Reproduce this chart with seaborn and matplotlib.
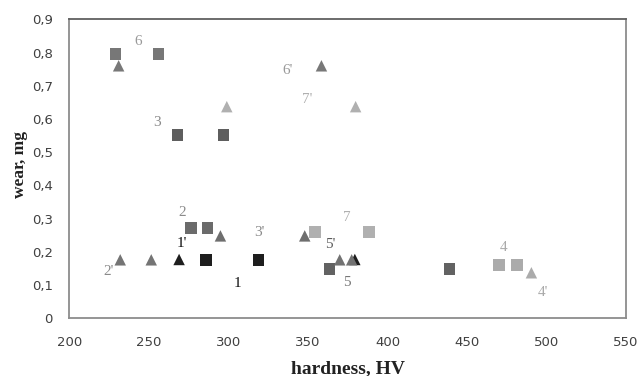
import matplotlib
matplotlib.use("Agg")
import matplotlib.pyplot as plt
import seaborn as sns
import pandas as pd

# Hardness (HV) and wear (mg) per sample series; primed series are the triangles
series_names = ["1", "1'", "2", "2'", "3", "3'", "4", "4'", "5", "5'", "6", "6'", "7", "7'"]
hardness = {
    "1": [286, 319],
    "1'": [269, 379.5],
    "2": [276.5, 287],
    "2'": [232, 251.5],
    "3": [268, 297],
    "3'": [295, 348],
    "4": [470, 481.5],
    "4'": [490.5],
    "5": [363.5, 439],
    "5'": [370, 377.5],
    "6": [229, 256],
    "6'": [231, 358.5],
    "7": [354.5, 388.5],
    "7'": [299, 380],
}
wear = {
    "1": [0.175, 0.175],
    "1'": [0.177, 0.177],
    "2": [0.272, 0.272],
    "2'": [0.176, 0.176],
    "3": [0.552, 0.552],
    "3'": [0.248, 0.248],
    "4": [0.16, 0.16],
    "4'": [0.137],
    "5": [0.149, 0.149],
    "5'": [0.176, 0.176],
    "6": [0.796, 0.796],
    "6'": [0.76, 0.76],
    "7": [0.26, 0.26],
    "7'": [0.637, 0.637],
}
x_ticks = [200, 250, 300, 350, 400, 450, 500, 550]
y_ticks = [0, 0.1, 0.2, 0.3, 0.4, 0.5, 0.6, 0.7, 0.8, 0.9]

# Styling
marker_colors = {
    "1": "#1e1e1e", "1'": "#1e1e1e",
    "2": "#6b6b6b", "2'": "#747474",
    "3": "#5e5e5e", "3'": "#6e6e6e",
    "4": "#ababab", "4'": "#ababab",
    "5": "#626262", "5'": "#727272",
    "6": "#777777", "6'": "#787878",
    "7": "#b0b0b0", "7'": "#b0b0b0",
}
label_colors = {
    "1": "#111111", "1'": "#111111",
    "2": "#8a8a8a", "2'": "#8a8a8a",
    "3": "#8a8a8a", "3'": "#8a8a8a",
    "4": "#aaaaaa", "4'": "#aaaaaa",
    "5": "#777777", "5'": "#5a5a5a",
    "6": "#999999", "6'": "#999999",
    "7": "#b0b0b0", "7'": "#b0b0b0",
}
label_pos = {
    "1": (306, 0.106), "1'": (271, 0.224),
    "2": (271, 0.317), "2'": (224.5, 0.140),
    "3": (255, 0.588), "3'": (319.5, 0.257),
    "4": (473, 0.212), "4'": (498, 0.079),
    "5": (374.5, 0.109), "5'": (364, 0.221),
    "6": (243, 0.832), "6'": (337.5, 0.745),
    "7": (374.5, 0.302), "7'": (349.5, 0.658),
}

rows = []
for name in series_names:
    for h, w in zip(hardness[name], wear[name]):
        rows.append({"hardness": h, "wear": w, "series": name})
df = pd.DataFrame(rows)
# draw black series first so grey triangles sit on top
order = ["1", "1'"] + [n for n in series_names if n not in ("1", "1'")]
df["series"] = pd.Categorical(df["series"], categories=order, ordered=True)
df = df.sort_values("series")
df["series"] = df["series"].astype(str)

markers = {n: ("^" if n.endswith("'") else "s") for n in series_names}

sns.set_style("white")
plt.rcParams["font.family"] = ["DejaVu Sans"]

fig = plt.figure(figsize=(6.39, 3.76), dpi=100)
ax = fig.add_axes([0.1085, 0.1535, 0.8712, 0.7952])

sns.scatterplot(data=df, x="hardness", y="wear", hue="series", style="series",
                palette=marker_colors, markers=markers, s=68, linewidth=0,
                hue_order=order, style_order=order, legend=False, ax=ax)

for name in series_names:
    lx, ly = label_pos[name]
    ax.text(lx, ly, name, color=label_colors[name], fontsize=11,
            family="Liberation Serif", ha="center", va="center")

ax.set_xlim(200, 550)
ax.set_ylim(0, 0.9)
ax.set_xticks(x_ticks)
ax.set_yticks(y_ticks)
ax.set_xticklabels([str(v) for v in x_ticks])
ax.set_yticklabels(["0" if v == 0 else f"{v:.1f}".replace(".", ",") for v in y_ticks])
ax.tick_params(axis="both", direction="in", length=4, width=0.8, color="#888888",
               labelsize=9.5, labelcolor="#404040")
ax.tick_params(axis="x", pad=13)
ax.tick_params(axis="y", pad=12)

for side in ["left", "bottom", "right"]:
    ax.spines[side].set_color("#8c8c8c")
    ax.spines[side].set_linewidth(1.3)
ax.spines["top"].set_color("#606060")
ax.spines["top"].set_linewidth(1.3)

ax.set_xlabel("hardness, HV", family="Liberation Serif", fontweight="bold",
              fontsize=14, color="#222222")
ax.set_ylabel("wear, mg", family="Liberation Serif", fontweight="bold",
              fontsize=12.5, color="#222222")
ax.xaxis.set_label_coords(0.5, -0.14)
ax.yaxis.set_label_coords(-0.074, 0.513)

fig.savefig("out.png", dpi=100)
